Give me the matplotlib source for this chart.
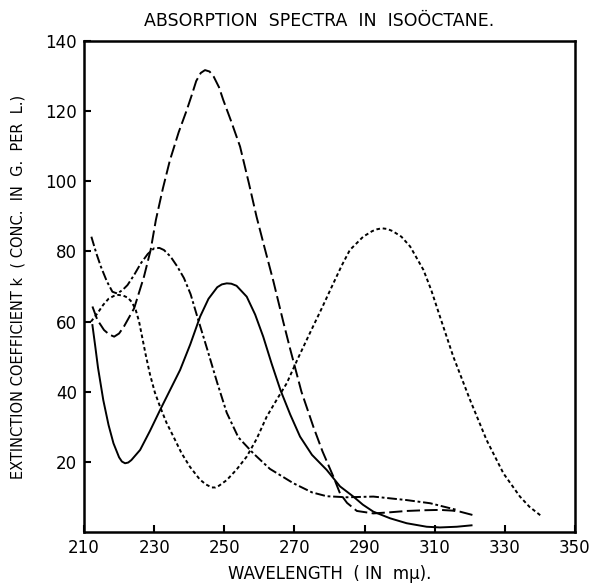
import matplotlib
matplotlib.use('Agg')
import numpy as np
from matplotlib import pyplot as plt

# values (wavelength in m-mu, extinction coefficient k)
long_dash_x = [212.4, 213.8, 215.7, 217.2, 218.6, 220.0, 221.4, 224.3, 227.1, 229.0, 230.5, 232.5,
               234.5, 237.0, 239.3, 240.7, 242.0, 243.3, 244.5, 245.8, 247.0, 248.5, 249.7, 252.0,
               254.5, 257.0, 259.2, 261.5, 264.0, 266.8, 268.7, 272.0, 275.4, 278.0, 281.1, 283.0,
               285.0, 287.8, 292.5, 297.0, 302.0, 307.0, 311.5, 315.0, 317.2, 321.0]
long_dash_y = [64.3, 60.5, 57.6, 56.3, 55.7, 56.6, 58.6, 63.8, 72.8, 80.4, 89.0, 98.0,
               106.0, 114.0, 120.3, 124.5, 128.6, 130.9, 131.7, 131.3, 129.8, 126.8, 123.2, 117.0,
               109.9, 99.5, 89.9, 81.0, 71.5, 60.0, 52.5, 40.0, 30.0, 23.0, 15.8, 11.0,
               8.3, 6.0, 5.3, 5.6, 6.0, 6.2, 6.3, 6.1, 5.8, 4.8]

dash_dot_x = [212.1, 213.5, 214.8, 216.5, 218.1, 219.5, 221.0, 222.4, 224.3, 226.2, 228.2, 230.0,
              231.5, 232.8, 234.7, 236.6, 238.5, 240.4, 242.3, 245.2, 248.0, 250.7, 254.0, 258.3,
              263.0, 269.7, 275.0, 279.2, 284.9, 292.5, 302.0, 308.7, 316.3]
dash_dot_y = [84.2, 79.5, 75.7, 71.5, 68.5, 68.0, 69.0, 70.4, 73.3, 76.6, 79.3, 80.9,
              81.0, 80.4, 78.5, 75.7, 72.4, 67.8, 61.4, 51.9, 42.5, 34.0, 27.0, 22.4,
              18.0, 13.9, 11.3, 10.2, 9.9, 10.1, 9.1, 8.2, 6.3]

solid_x = [212.4, 213.2, 214.0, 215.5, 217.0, 218.4, 220.0, 220.8, 221.7, 222.6, 223.5, 226.0,
           228.8, 231.7, 234.5, 237.4, 240.3, 243.1, 245.5, 248.0, 249.3, 250.7, 252.0, 253.5,
           256.4, 258.8, 261.1, 263.5, 266.0, 268.8, 271.6, 275.0, 279.2, 283.0, 286.8, 289.5,
           292.5, 297.3, 302.0, 307.7, 311.5, 316.3, 320.5]
solid_y = [59.0, 53.0, 46.8, 37.6, 30.5, 25.3, 21.3, 20.1, 19.6, 19.8, 20.5, 23.4,
           28.8, 34.8, 40.4, 46.2, 53.5, 61.4, 66.5, 69.8, 70.6, 70.9, 70.8, 70.2,
           67.1, 62.0, 55.7, 48.0, 40.5, 33.5, 27.2, 22.0, 17.7, 13.0, 10.1, 7.8,
           5.8, 3.9, 2.5, 1.5, 1.3, 1.5, 1.9]

dotted_x = [212.0, 213.8, 215.5, 217.0, 218.5, 219.8, 221.2, 222.5, 223.6, 224.7, 225.7, 226.6,
            227.6, 228.8, 230.2, 231.7, 233.5, 235.5, 237.8, 240.2, 243.0, 244.7, 246.4, 247.5,
            248.5, 250.7, 253.5, 256.4, 259.2, 262.1, 265.0, 267.8, 271.0, 274.4, 277.8, 281.1,
            283.5, 285.8, 289.6, 292.2, 293.5, 294.9, 296.5, 298.0, 300.5, 303.0, 306.8, 309.0,
            311.5, 315.3, 320.1, 324.8, 329.6, 334.3, 337.0, 340.2]
dotted_y = [60.0, 62.3, 64.8, 66.5, 67.3, 67.6, 67.4, 66.8, 65.6, 63.5, 60.0, 55.5,
            50.5, 45.0, 39.8, 35.7, 31.2, 27.2, 22.5, 18.6, 15.0, 13.6, 12.7, 12.7,
            13.2, 14.8, 17.8, 21.5, 26.5, 32.9, 37.8, 42.4, 49.5, 56.7, 63.8, 70.9,
            76.0, 80.4, 84.2, 85.8, 86.3, 86.6, 86.4, 85.8, 84.2, 81.4, 74.7, 69.0,
            61.4, 50.0, 37.6, 26.2, 16.7, 10.1, 7.2, 4.7]

x_ticks = [210, 230, 250, 270, 290, 310, 330, 350]
y_ticks = [20, 40, 60, 80, 100, 120, 140]

plt.rcParams['lines.scale_dashes'] = False
plt.rcParams['font.family'] = 'DejaVu Sans'

fig = plt.figure(figsize=(5.93, 5.84), dpi=100)
ax = fig.add_axes([84/593, 52/584, 491/593, 491/584])

lw = 1.4
ax.plot(long_dash_x, long_dash_y, color='black', lw=lw, dashes=(9.5, 3.2))
ax.plot(dash_dot_x, dash_dot_y, color='black', lw=lw, dashes=(7, 2, 2, 2))
ax.plot(solid_x, solid_y, color='black', lw=lw)
ax.plot(dotted_x, dotted_y, color='black', lw=lw, dashes=(2.6, 2.0))

ax.set_xlim(210, 350)
ax.set_ylim(0, 140)
ax.set_xticks(x_ticks)
ax.set_yticks(y_ticks)
ax.tick_params(direction='in', length=5, width=1.5, labelsize=12, pad=5)
for s in ax.spines.values():
    s.set_linewidth(1.8)

fig.text(319/593, 1 - 21.5/584, "ABSORPTION  SPECTRA  IN  ISOÖCTANE.", ha='center', va='center',
         fontsize=12.5)
fig.text(330/593, 1 - 574/584, "WAVELENGTH  ( IN  mμ).", ha='center', va='center', fontsize=12)
fig.text(18.5/593, 1 - 287/584, "EXTINCTION COEFFICIENT k  ( CONC.  IN  G.  PER  L.)",
         ha='center', va='center', rotation=90, fontsize=10.5)

fig.savefig("out.png", dpi=100)
